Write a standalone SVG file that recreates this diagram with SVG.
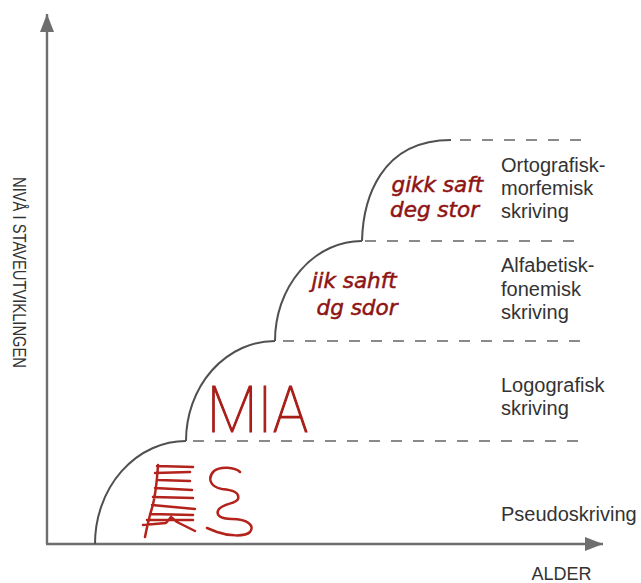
<svg xmlns="http://www.w3.org/2000/svg" width="641" height="583" viewBox="0 0 641 583">
  <style>
    .axis { stroke: #6e6e6e; stroke-width: 2.4; fill: none; }
    .curve { stroke: #505050; stroke-width: 2; fill: none; }
    .dash { stroke: #8a8a8a; stroke-width: 2; fill: none; stroke-dasharray: 11 11; }
    .label { font-family: "Liberation Sans", Arial, sans-serif; font-size: 20px; fill: #333333; }
    .axislabel { font-family: "Liberation Sans", Arial, sans-serif; font-size: 18px; fill: #333333; }
    .vlabel { font-family: "Liberation Sans", Arial, sans-serif; font-size: 18px; fill: #333333; }
    .hand { font-family: "DejaVu Sans", sans-serif; font-style: italic; font-size: 21.5px; fill: #8e1414; stroke: #8e1414; stroke-width: 0.5px; }
    .scribble { stroke: #b3221b; stroke-width: 2.5; fill: none; stroke-linecap: round; stroke-linejoin: round; }
  </style>
  <defs>
    <marker id="arrow" markerUnits="userSpaceOnUse" markerWidth="19" markerHeight="14" refX="18" refY="7" orient="auto">
      <path d="M0 0 L18 7 L0 14 Z" fill="#6e6e6e"/>
    </marker>
  </defs>
  <rect width="641" height="583" fill="#ffffff"/>

  <g id="axes">
    <line class="axis" x1="47" y1="544" x2="47" y2="14" marker-end="url(#arrow)"/>
    <line class="axis" x1="46" y1="544" x2="603" y2="544" marker-end="url(#arrow)"/>
    <text class="vlabel" transform="translate(12.5,177) rotate(90)" textLength="191" lengthAdjust="spacingAndGlyphs">NIVÅ I STAVEUTVIKLINGEN</text>
    <text class="axislabel" x="531.5" y="580">ALDER</text>
  </g>

  <g id="connectors">
    <path class="curve" d="M95 544 A91 103 0 0 1 186 441"/>
    <path class="curve" d="M186 441 A89 100 0 0 1 275 341"/>
    <path class="curve" d="M275 341 A87 100 0 0 1 362 241"/>
    <path class="curve" d="M362 241 C363 200 380 140 451 140"/>
    <path class="dash" d="M193 441 H582"/>
    <path class="dash" d="M283 341 H582"/>
    <path class="dash" d="M365 241 H582"/>
    <path class="dash" d="M460 140 H582"/>
  </g>

  <g id="stage-pseudo">
    <text class="label" x="501" y="521">Pseudoskriving</text>
    <path class="scribble" d="M158 465 C157 480 155 498 152 508 C149 518 147 527 145 537
      M157 466 L193 467 M155 473 L190 472 M158 480 L190 481 M155 488 L192 490
      M153 497 L193 498 M152 505 L195 509 M150 514 L193 515 M147 520 L193 520
      M143 525 L166 523 L171 517 L177 522 L195 531
      M240 472 C235 467 220 466 214 471 C207 478 210 487 222 489 C232 490 240 492 238 499 C236 504 224 503 219 509 C215 515 220 519 232 519 C248 519 255 526 250 532 C245 537 228 536 217 532 L207 528"/>
  </g>

  <g id="stage-logo">
    <text class="label" x="501" y="392">Logografisk</text>
    <text class="label" x="501" y="415">skriving</text>
    <text x="207" y="432" textLength="101" lengthAdjust="spacingAndGlyphs" font-family="Roboto, Lato, Inter, sans-serif" font-weight="100" font-size="64" fill="#a81d18" stroke="#a81d18" stroke-width="1.2">MIA</text>
  </g>

  <g id="stage-alfa">
    <text class="label" x="501" y="272">Alfabetisk-</text>
    <text class="label" x="501" y="296">fonemisk</text>
    <text class="label" x="501" y="319">skriving</text>
    <text class="hand" x="311.5" y="288">jik sahft</text>
    <text class="hand" x="316.5" y="315">dg sdor</text>
  </g>

  <g id="stage-orto">
    <text class="label" x="501" y="172">Ortografisk-</text>
    <text class="label" x="501" y="195">morfemisk</text>
    <text class="label" x="501" y="218">skriving</text>
    <text class="hand" x="391.5" y="192">gikk saft</text>
    <text class="hand" x="390" y="217">deg stor</text>
  </g>
</svg>
